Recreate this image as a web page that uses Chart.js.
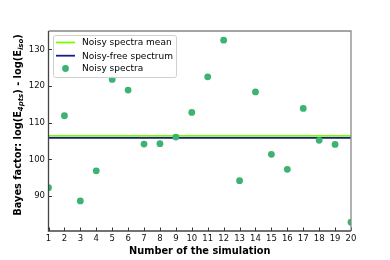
<!DOCTYPE html>
<html>
<head>
<meta charset="utf-8">
<script src="https://cdn.jsdelivr.net/npm/chart.js@4"></script>
<style>
  html, body { margin: 0; padding: 0; background: #fff; }
  #wrap { width: 390px; height: 260px; }
</style>
</head>
<body>
<div id="wrap"><canvas id="bayesChart" width="390" height="260"></canvas></div>
<script>
// data
const simNumbers = [1, 2, 3, 4, 5, 6, 7, 8, 9, 10, 11, 12, 13, 14, 15, 16, 17, 18, 19, 20];
const noisyValues = [92.3, 111.9, 88.7, 96.9, 121.8, 118.9, 104.2, 104.3, 106.1, 112.8,
                     122.5, 132.5, 94.2, 118.4, 101.4, 97.3, 113.9, 105.2, 104.1, 82.9];
const noisyMean = 106.4;
const noiseFree = 105.9;
const yTicks = [90, 100, 110, 120, 130];
const xTicks = simNumbers;

const FONT = "DejaVu Sans";

// inward ticks + frame, like the matplotlib look
const frameTicks = {
  id: "frameTicks",
  afterDraw(chart) {
    const ctx = chart.ctx, a = chart.chartArea;
    const xs = chart.scales.x, ys = chart.scales.y;
    ctx.save();
    ctx.lineWidth = 1;
    ctx.strokeStyle = "#333";
    xTicks.forEach(v => {
      const px = Math.round(xs.getPixelForValue(v)) + 0.5;
      ctx.beginPath(); ctx.moveTo(px, a.bottom); ctx.lineTo(px, a.bottom - 3.5); ctx.stroke();
    });
    yTicks.forEach(v => {
      const py = Math.round(ys.getPixelForValue(v)) + 0.5;
      ctx.beginPath(); ctx.moveTo(a.left, py); ctx.lineTo(a.left + 3.5, py); ctx.stroke();
    });
    // top/right frame in grey, left/bottom darker
    ctx.lineWidth = 1.3;
    ctx.strokeStyle = "#888";
    ctx.beginPath();
    ctx.moveTo(a.left, a.top); ctx.lineTo(a.right, a.top); ctx.lineTo(a.right, a.bottom);
    ctx.stroke();
    ctx.strokeStyle = "#444";
    ctx.beginPath();
    ctx.moveTo(a.left, a.top); ctx.lineTo(a.left, a.bottom); ctx.lineTo(a.right, a.bottom);
    ctx.stroke();
    ctx.restore();
  }
};

// legend box in the upper left corner
const boxLegend = {
  id: "boxLegend",
  afterDraw(chart) {
    const ctx = chart.ctx;
    const x0 = 53.5, y0 = 35.5, w = 123, h = 42;
    ctx.save();
    ctx.fillStyle = "rgba(255,255,255,0.85)";
    ctx.strokeStyle = "#d0d0d0";
    ctx.lineWidth = 1;
    ctx.beginPath();
    ctx.roundRect(x0, y0, w, h, 2);
    ctx.fill(); ctx.stroke();
    ctx.font = "9px '" + FONT + "'";
    ctx.textBaseline = "middle";
    ctx.fillStyle = "#000";
    const rows = [42.5, 55.7, 68.5];
    chart.data.datasets.forEach((ds, i) => {
      const y = rows[i];
      if (ds.showLine) {
        ctx.strokeStyle = ds.borderColor;
        ctx.lineWidth = ds.borderWidth;
        ctx.beginPath(); ctx.moveTo(56, y); ctx.lineTo(75, y); ctx.stroke();
      } else {
        ctx.fillStyle = ds.backgroundColor;
        ctx.beginPath(); ctx.arc(65.5, y, ds.pointRadius, 0, Math.PI * 2); ctx.fill();
      }
      ctx.fillStyle = "#000";
      ctx.fillText(ds.label, 82, y + 0.5);
    });
    ctx.restore();
  }
};

// y title with subscripts, drawn rotated
const yTitle = {
  id: "yTitle",
  afterDraw(chart) {
    const ctx = chart.ctx;
    const parts = [
      ["Bayes factor: log(E", false],
      ["4pts", true],
      [") - log(E", false],
      ["iso", true],
      [")", false]
    ];
    const big = "bold 9.8px '" + FONT + "'";
    const small = "italic bold 7px '" + FONT + "'";
    ctx.save();
    let total = 0;
    parts.forEach(p => { ctx.font = p[1] ? small : big; total += ctx.measureText(p[0]).width; });
    ctx.translate(21, 125);
    ctx.rotate(-Math.PI / 2);
    ctx.fillStyle = "#000";
    ctx.textBaseline = "alphabetic";
    let x = -total / 2;
    parts.forEach(p => {
      ctx.font = p[1] ? small : big;
      ctx.fillText(p[0], x, p[1] ? 2.2 : 0);
      x += ctx.measureText(p[0]).width;
    });
    ctx.restore();
  }
};

new Chart("bayesChart", {
  type: "scatter",
  data: {
    datasets: [
      {
        label: "Noisy spectra mean",
        data: [{ x: 1, y: noisyMean }, { x: 20, y: noisyMean }],
        showLine: true,
        borderColor: "#7cfc00",
        borderWidth: 1.8,
        pointRadius: 0,
        order: 2
      },
      {
        label: "Noisy-free spectrum",
        data: [{ x: 1, y: noiseFree }, { x: 20, y: noiseFree }],
        showLine: true,
        borderColor: "#1a1a8c",
        borderWidth: 1.8,
        pointRadius: 0,
        order: 3
      },
      {
        label: "Noisy spectra",
        data: simNumbers.map((n, i) => ({ x: n, y: noisyValues[i] })),
        showLine: false,
        backgroundColor: "#3cb371",
        borderColor: "#3cb371",
        borderWidth: 0,
        pointRadius: 3.4,
        order: 1
      }
    ]
  },
  options: {
    responsive: false,
    animation: false,
    layout: { padding: { left: 0, right: 39, top: 31, bottom: 0 } },
    plugins: {
      legend: { display: false },
      tooltip: { enabled: false }
    },
    datasets: { scatter: { clip: 0 } },
    scales: {
      x: {
        type: "linear",
        min: 1,
        max: 20,
        grid: { display: false, drawTicks: false },
        border: { display: false },
        afterBuildTicks: s => { s.ticks = xTicks.map(v => ({ value: v })); },
        afterFit: s => { s.height = 29; },
        ticks: {
          padding: 3,
          autoSkip: false,
          maxRotation: 0,
          color: "#111",
          font: { family: FONT, size: 8.5 }
        },
        title: {
          display: true,
          text: "Number of the simulation",
          color: "#000",
          padding: { top: 1, bottom: 3 },
          font: { family: FONT, size: 9.8, weight: "bold" }
        }
      },
      y: {
        min: 80.5,
        max: 135,
        grid: { display: false, drawTicks: false },
        border: { display: false },
        afterBuildTicks: s => { s.ticks = yTicks.map(v => ({ value: v })); },
        afterFit: s => { s.width = 48.5; },
        ticks: {
          padding: 3.5,
          color: "#111",
          font: { family: FONT, size: 8.5 }
        }
      }
    }
  },
  plugins: [frameTicks, boxLegend, yTitle]
});
</script>
</body>
</html>
